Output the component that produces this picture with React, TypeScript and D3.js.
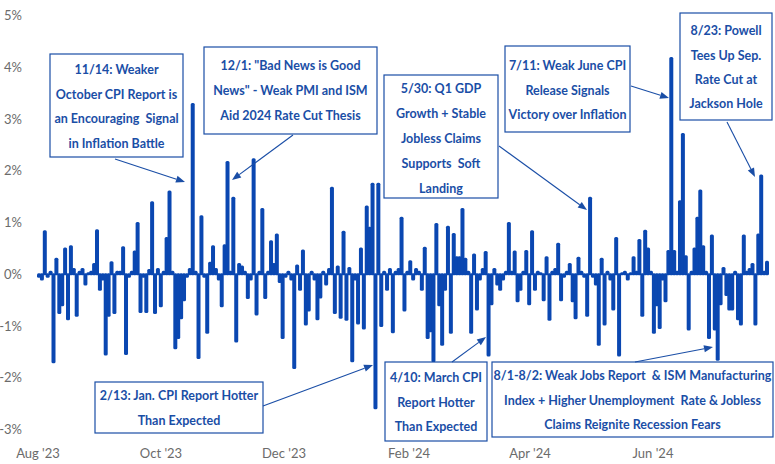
import React from 'react';
import * as d3 from 'd3';

// Daily S&P 500 moves (%), read left to right in chunks
const returnsPart1 = [
  -0.05, -0.1, 0.83, -0.05, 0.05, -1.7, 0.3, -0.75, -0.6, 0.5, -0.87, 0.54, 0.1, -0.8,
  0.05, 0.1, -0.2, 0.02, 0.05, 0.2, 0.85, -0.3, -0.1, -1.55, -0.8, 0.23, -0.75, 0.05,
  0.05, 0.52, -1.54, -0.05, 0.05, 0.44, 0.99, -0.73, -0.05, -0.73, 0.08, 1.39, -0.75, 0.1,
];
const returnsPart2 = [
  -0.62, 0.05, 0.7, 1.6, 0.05, -1.43, -1.23, -0.85, -0.5, -0.05, 0.1, 3.29, 0.05, -1.62,
  1.12, -0.05, -1.13, 0.22, 0.54, 0.1, -0.1, -0.62, 0.56, 2.17, 0.05, 1.48, -1.3, 0.2,
  0.15, 0.05, -0.46, -0.1, 2.22, -0.78, 0.05, 1.26, -0.46, 0.05, 0.64, 0.2, 0.77, -0.15,
];
const returnsPart3 = [
  -1.23, -0.05, 0.05, -0.1, -1.81, 0.17, -0.3, 0.46, -0.97, -0.7, 0.05, -0.1, -0.87, -0.45,
  0.05, -0.2, 0.1, 1.67, -0.75, 0.15, -0.84, 0.82, -0.88, 0.12, -1.68, -0.1, -0.95, 0.5,
  -1.05, 1.31, 0.9, 1.75, -2.59, 1.75, -1.0, 0.05, -0.3, 0.1, -1.12, 0.05, 0.1, 1.09,
];
const returnsPart4 = [
  -0.7, 0.05, 0.25, -0.1, 0.1, 0.05, -0.3, 0.51, -1.23, -1.1, -1.68, 0.97, -0.6, -1.36,
  -0.3, 0.92, -1.13, 0.78, 0.33, 0.33, 1.26, 0.3, 0.05, -1.13, 0.38, -0.68, -0.1, 0.1,
  0.43, -1.57, -0.58, 0.1, -0.2, -0.3, -0.1, 0.05, 0.99, 0.05, 0.44, -0.52, -0.3, 0.05,
];
const returnsPart5 = [
  0.45, -0.58, 0.83, -0.3, 0.05, 0.02, -0.5, 0.33, -0.88, 0.05, 0.1, 0.59, -0.5, -0.05,
  0.05, 0.2, -0.52, -0.85, 0.32, 0.05, -0.05, -0.8, 1.48, -0.05, -0.2, -1.36, 0.3, -0.97,
  0.05, -0.1, -0.68, 0.7, -1.57, 0.02, 0.05, -0.1, 0.02, 0.33, 0.05, 0.66, -0.8, 0.84,
];
const returnsPart6 = [
  0.5, 0.05, -1.13, -0.6, -1.04, -0.1, -0.52, 0.45, 4.18, 0.45, 0.05, 1.41, 2.71, 0.35,
  -1.07, 0.05, 0.5, 1.09, 1.62, 0.54, 0.05, -1.23, 0.75, -1.07, -1.65, -0.58, 0.12, -0.4,
  -0.68, -0.68, 0.05, -0.87, -0.97, 0.75, 0.05, 0.1, 0.2, -0.97, 0.77, 1.91, 0.05, 0.24,
];
const dailyReturns = [
  ...returnsPart1, ...returnsPart2, ...returnsPart3,
  ...returnsPart4, ...returnsPart5, ...returnsPart6,
];

const yTicks = [-3, -2, -1, 0, 1, 2, 3, 4, 5];
const monthTicks = ['2023-08-01', '2023-10-01', '2023-12-01', '2024-02-01', '2024-04-01', '2024-06-01'];

const annotationTexts = [
  ['11/14: Weaker', 'October CPI Report is', 'an Encouraging  Signal', 'in Inflation Battle'],
  ['12/1: "Bad News is Good', 'News" - Weak PMI and ISM', 'Aid 2024 Rate Cut Thesis'],
  ['5/30: Q1 GDP', 'Growth + Stable', 'Jobless Claims', 'Supports  Soft', 'Landing'],
  ['7/11: Weak June CPI', 'Release Signals', 'Victory over Inflation'],
  ['8/23: Powell', 'Tees Up Sep.', 'Rate Cut at', 'Jackson Hole'],
  ['2/13: Jan. CPI Report Hotter', 'Than Expected'],
  ['4/10: March CPI', 'Report Hotter', 'Than Expected'],
  ['8/1-8/2: Weak Jobs Report  & ISM Manufacturing', 'Index + Higher Unemployment  Rate & Jobless', 'Claims Reignite Recession Fears'],
];

// box layout [x, y, w, h], first line y, line gap, arrow [x1, y1, x2, y2]
const boxLayout = [
  { box: [50, 54, 133, 103], first: 70, gap: 24.5, arrow: [115, 159, 185, 182] },
  { box: [204, 47, 173, 87], first: 66, gap: 25, arrow: [293, 135, 232, 180] },
  { box: [384, 75, 114, 123], first: 89, gap: 24.8, arrow: [499, 146, 587, 210] },
  { box: [505, 46, 125, 86], first: 66, gap: 24.5, arrow: [631, 86, 669, 98] },
  { box: [680, 13, 92, 107], first: 31, gap: 24.3, arrow: [727, 122, 755, 177] },
  { box: [95, 382, 168, 51], first: 396, gap: 25, arrow: [263, 406, 373, 365] },
  { box: [385, 362, 102, 79], first: 378, gap: 24.5, arrow: [452, 362, 486, 337] },
  { box: [492, 362, 281, 75], first: 376, gap: 24.5, arrow: [635, 362, 713, 347] },
];

const BAR = '#0a47b1';
const NOTE = '#1a4ea6';

const Arrow: React.FC<{ a: number[] }> = ({ a }) => {
  const [x1, y1, x2, y2] = a;
  const ang = Math.atan2(y2 - y1, x2 - x1);
  const len = 9, half = 3.5;
  const bx = x2 - len * Math.cos(ang), by = y2 - len * Math.sin(ang);
  const px = -Math.sin(ang) * half, py = Math.cos(ang) * half;
  return (
    <g>
      <line x1={x1} y1={y1} x2={bx} y2={by} stroke={NOTE} strokeWidth={1.1} />
      <polygon points={`${x2},${y2} ${bx + px},${by + py} ${bx - px},${by - py}`} fill={NOTE} />
    </g>
  );
};

const App: React.FC = () => {
  const width = 775;
  const height = 464;

  const x = d3.scaleLinear().domain([0, dailyReturns.length - 1]).range([39, 767]);
  const y = d3.scaleLinear().domain([-3, 5]).range([429.5, 15.5]);
  const xTime = d3.scaleTime()
    .domain([new Date(2023, 7, 1), new Date(2024, 5, 1)])
    .range([38, 653]);
  const fmt = d3.timeFormat("%b '%y");
  const barW = 4;

  return (
    <svg
      width={width}
      height={height}
      style={{ position: 'absolute', left: 0, top: 0, background: '#fff' }}
      fontFamily="Lato, 'Noto Sans', sans-serif"
    >
      {/* y axis labels */}
      {yTicks.map(t => (
        <text key={t} x={22} y={y(t)} dy="0.35em" textAnchor="end" fontSize={13} fill="#6b6b6b">
          {`${t}%`}
        </text>
      ))}

      {/* x axis labels */}
      {monthTicks.map(m => {
        const d = new Date(m + 'T00:00:00');
        return (
          <text key={m} x={xTime(d)} y={453} dy="0.35em" textAnchor="middle" fontSize={13} fill="#6b6b6b">
            {fmt(d)}
          </text>
        );
      })}

      {/* bars */}
      {dailyReturns.map((v, i) => {
        const y0 = y(0);
        const yv = y(v);
        const top = Math.min(y0, yv) - 1;
        const h = Math.abs(yv - y0) + 2;
        return (
          <rect key={i} x={x(i) - barW / 2} y={top} width={barW} height={h} rx={1.5} fill={BAR} />
        );
      })}

      {/* annotations */}
      {annotationTexts.map((lines, k) => {
        const L = boxLayout[k];
        const [bx, by, bw, bh] = L.box;
        return (
          <g key={k}>
            <rect x={bx} y={by} width={bw} height={bh} fill="#fff" stroke={NOTE} strokeWidth={1.2} />
            {lines.map((ln, j) => (
              <text
                key={j}
                x={bx + bw / 2}
                y={L.first + j * L.gap}
                dy="0.35em"
                textAnchor="middle"
                fontSize={12.5}
                fontWeight="bold"
                fill={NOTE}
                style={{ whiteSpace: 'pre' }}
              >
                {ln}
              </text>
            ))}
            <Arrow a={L.arrow} />
          </g>
        );
      })}
    </svg>
  );
};

export default App;
